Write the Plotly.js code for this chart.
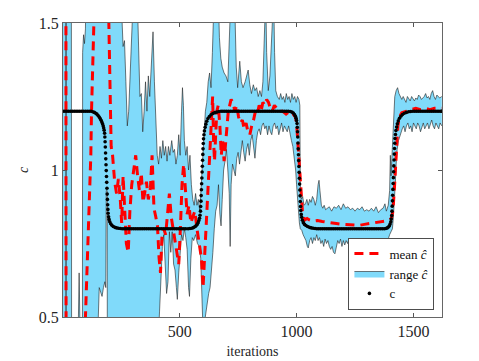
<!DOCTYPE html>
<html>
<head>
<meta charset="utf-8">
<script src="https://cdn.plot.ly/plotly-3.0.1.min.js"></script>
<style>
  body { margin: 0; background: #fff; }
  #plot { width: 479px; height: 361px; }
</style>
</head>
<body>
<div id="plot"></div>
<script>
// true parameter c as [iteration, value]
var cPoints = [
  [1,1.2],[9,1.2],[17,1.2],[25,1.2],[33,1.2],[41,1.2],[49,1.2],[57,1.2],[65,1.2],[73,1.2],[81,1.2],[89,1.2],[97,1.2],[105,1.2],[113,1.2],[121,1.2],
  [128,1.198],[135,1.196],[141,1.193],[146,1.19],[151,1.185],[156,1.18],[160,1.175],[164,1.169],[167,1.163],[170,1.157],[173,1.15],[175,1.143],[177,1.135],[179,1.125],
  [180,1.112],[181,1.096],[182,1.078],[183,1.058],[184,1.038],[185,1.018],[186,0.998],[187,0.978],[188,0.958],[189,0.938],[190,0.918],[191,0.9],[192,0.882],[193,0.866],
  [194,0.853],[196,0.841],[198,0.832],[201,0.824],[205,0.817],[210,0.812],[216,0.808],[223,0.805],[230,0.803],[238,0.802],[246,0.801],
  [254,0.8],[262,0.8],[270,0.8],[278,0.8],[286,0.8],[294,0.8],[302,0.8],[310,0.8],[318,0.8],[326,0.8],[334,0.8],[342,0.8],[350,0.8],[358,0.8],[366,0.8],[374,0.8],
  [382,0.8],[390,0.8],[398,0.8],[406,0.8],[414,0.8],[422,0.8],[430,0.8],[438,0.8],[446,0.8],[454,0.8],[462,0.8],[470,0.8],[478,0.8],[486,0.8],[494,0.8],[502,0.8],
  [510,0.8],[518,0.8],[526,0.8],[536,0.8],[544,0.801],[552,0.802],[559,0.804],[565,0.807],[570,0.81],[575,0.815],[579,0.821],[582,0.828],[585,0.836],[587,0.846],
  [589,0.86],[590,0.876],[591,0.894],[592,0.913],[593,0.933],[594,0.953],[595,0.973],[596,0.993],[597,1.013],[598,1.033],[599,1.053],[600,1.072],[601,1.09],[602,1.106],
  [604,1.12],[606,1.133],[609,1.145],[612,1.156],[616,1.166],[621,1.175],[627,1.182],[634,1.188],[642,1.192],[650,1.195],[659,1.197],[668,1.199],[677,1.2],
  [685,1.2],[693,1.2],[701,1.2],[709,1.2],[717,1.2],[725,1.2],[733,1.2],[741,1.2],[749,1.2],[757,1.2],[765,1.2],[773,1.2],[781,1.2],[789,1.2],[797,1.2],[805,1.2],
  [813,1.2],[821,1.2],[829,1.2],[837,1.2],[845,1.2],[853,1.2],[861,1.2],[869,1.2],[877,1.2],[885,1.2],[893,1.2],[901,1.2],[909,1.2],[917,1.2],[925,1.2],[933,1.2],
  [941,1.2],[949,1.2],[957,1.2],[965,1.2],[973,1.199],[980,1.197],[986,1.194],[991,1.189],[995,1.183],[998,1.176],[1000,1.168],[1002,1.158],[1003,1.145],[1004,1.13],
  [1005,1.112],[1006,1.092],[1007,1.072],[1008,1.052],[1009,1.032],[1010,1.012],[1011,0.992],[1012,0.972],[1013,0.952],[1014,0.932],[1015,0.912],[1016,0.893],
  [1017,0.876],[1018,0.862],[1020,0.849],[1022,0.839],[1025,0.829],[1029,0.821],[1034,0.815],[1040,0.811],[1047,0.808],[1055,0.805],[1063,0.803],[1071,0.802],[1079,0.801],
  [1087,0.8],[1095,0.8],[1103,0.8],[1111,0.8],[1119,0.8],[1127,0.8],[1135,0.8],[1143,0.8],[1151,0.8],[1159,0.8],[1167,0.8],[1175,0.8],[1183,0.8],[1191,0.8],
  [1199,0.8],[1207,0.8],[1215,0.8],[1223,0.8],[1231,0.8],[1239,0.8],[1247,0.8],[1255,0.8],[1263,0.8],[1271,0.8],[1279,0.8],[1287,0.8],[1295,0.8],[1303,0.8],
  [1311,0.8],[1319,0.8],[1327,0.8],[1335,0.8],[1343,0.8],[1351,0.8],[1359,0.8],[1367,0.8],[1375,0.8],[1382,0.801],[1388,0.803],[1393,0.806],[1397,0.81],[1400,0.816],
  [1403,0.824],[1405,0.833],[1407,0.845],[1408,0.86],[1409,0.877],[1410,0.895],[1411,0.914],[1412,0.934],[1413,0.954],[1414,0.974],[1415,0.994],[1416,1.014],
  [1417,1.034],[1418,1.054],[1419,1.073],[1420,1.091],[1421,1.107],[1423,1.121],[1425,1.134],[1428,1.146],[1431,1.157],[1435,1.167],[1440,1.176],[1446,1.183],
  [1453,1.189],[1461,1.193],[1470,1.196],[1479,1.198],[1488,1.199],[1497,1.2],[1505,1.2],[1513,1.2],[1521,1.2],[1529,1.2],[1537,1.2],[1545,1.2],[1553,1.2],
  [1561,1.2],[1569,1.2],[1577,1.2],[1585,1.2],[1593,1.2],[1601,1.2],[1609,1.2],[1617,1.2],[1621,1.2]
];

// mean of the estimates c-hat
var meanPoints = [
  [1,2.5],[13,2.5],[15,-1.0],[85,0.1],[97,0.5],[105,0.7],[112,0.85],[117,0.95],[120,1.05],[123,1.2],[125,1.35],[127,1.5],[131,1.9],
  [160,2.3],[190,1.8],[197,1.5],[200,1.3],[203,1.15],[207,1.08],[213,1.05],[222,0.96],[230,0.92],[238,0.97],[246,0.9],[252,0.82],[258,0.98],[265,0.88],
  [272,0.75],[280,0.72],[287,0.86],[295,0.95],[303,1.0],[312,1.05],[320,0.98],[328,0.93],[336,0.99],[343,0.89],[350,0.92],[358,0.96],[366,0.9],[375,0.94],
  [382,1.05],[390,0.87],[398,0.84],[405,0.81],[412,0.7],[418,0.65],[424,0.77],[432,0.8],[440,0.78],[448,0.86],[456,0.92],[464,0.84],[472,0.8],[480,0.77],
  [488,0.73],[496,0.68],[503,0.8],[510,0.95],[517,1.02],[524,0.92],[532,0.85],[540,0.88],[548,0.82],[556,0.84],[565,0.86],[574,0.8],[585,0.75],[593,0.7],
  [600,0.6],[606,0.7],[612,0.8],[618,0.9],[624,1.0],[630,1.1],[636,1.2],[641,1.25],[645,1.1],[649,1.03],[654,1.12],[659,1.2],[665,1.22],[672,1.15],
  [678,1.05],[684,1.1],[690,1.03],[696,1.08],[702,1.15],[708,1.2],[714,1.22],[720,1.24],[728,1.23],[736,1.2],[744,1.22],[752,1.18],[760,1.16],[768,1.17],
  [776,1.14],[784,1.16],[792,1.13],[800,1.12],[808,1.15],[816,1.17],[824,1.2],[832,1.19],[840,1.22],[848,1.2],[856,1.23],[864,1.22],[872,1.24],[880,1.23],
  [888,1.21],[896,1.2],[905,1.22],[915,1.21],[925,1.2],[940,1.2],[955,1.19],[970,1.2],[985,1.19],[995,1.18],[1000,1.16],[1005,1.1],[1010,1.03],[1015,0.97],
  [1020,0.9],[1025,0.86],[1030,0.84],[1035,0.83],[1045,0.835],[1055,0.83],[1070,0.826],[1090,0.828],[1110,0.825],[1130,0.822],[1150,0.82],[1170,0.818],
  [1190,0.816],[1210,0.815],[1230,0.814],[1250,0.812],[1270,0.812],[1290,0.815],[1310,0.818],[1330,0.82],[1350,0.822],[1370,0.825],[1390,0.828],[1405,0.835],
  [1412,0.86],[1418,0.93],[1423,1.02],[1428,1.1],[1433,1.15],[1440,1.18],[1450,1.195],[1470,1.2],[1490,1.205],[1510,1.21],[1530,1.205],[1550,1.21],
  [1570,1.205],[1590,1.21],[1610,1.21],[1621,1.21]
];

// upper edge of the range of c-hat
var upperPoints = [
  [1,2.5],[36,2.5],[38,0.2],[60,0.3],[66,0.45],[70,0.65],[74,0.45],[80,0.35],[84,0.4],[85,1.4],[89,1.46],[93,1.43],[97,1.48],[100,1.6],[104,2.0],
  [250,2.0],[254,1.5],[258,1.42],[264,1.44],[270,1.3],[276,1.15],[282,1.2],[288,1.35],[294,1.52],[298,1.7],[312,1.8],[320,1.55],[325,1.35],[330,1.25],
  [336,1.26],[342,1.13],[348,1.2],[354,1.3],[360,1.2],[366,1.32],[372,1.25],[380,1.38],[386,1.47],[392,1.3],[398,1.15],[404,1.05],[410,1.02],[416,1.08],
  [422,1.04],[428,1.1],[434,1.05],[440,1.08],[446,1.03],[452,1.08],[458,1.05],[466,1.1],[472,1.06],[478,1.07],[484,1.02],[490,1.05],[496,1.12],[502,1.05],
  [508,1.2],[512,1.28],[516,1.22],[520,1.1],[526,1.05],[532,1.08],[538,1.0],[544,1.05],[550,0.95],[556,0.9],[562,0.88],[568,0.92],[574,0.88],[580,0.9],
  [586,0.86],[592,0.95],[598,1.05],[604,1.15],[610,1.2],[616,1.23],[622,1.3],[628,1.33],[634,1.28],[640,1.4],[645,1.6],[655,1.8],[665,1.6],[670,1.45],
  [676,1.38],[682,1.35],[690,1.33],[698,1.32],[706,1.3],[714,1.45],[719,1.6],[728,1.8],[736,1.55],[742,1.35],[748,1.28],[757,1.37],[764,1.3],[771,1.28],
  [780,1.3],[793,1.34],[800,1.29],[807,1.26],[815,1.29],[822,1.27],[829,1.28],[836,1.25],[843,1.27],[850,1.25],[856,1.3],[860,1.4],[864,1.55],[868,1.6],
  [872,1.4],[879,1.27],[886,1.32],[893,1.45],[898,1.6],[902,1.6],[906,1.4],[911,1.27],[918,1.25],[926,1.24],[932,1.26],[938,1.24],[944,1.25],[950,1.23],
  [956,1.26],[962,1.24],[968,1.25],[974,1.23],[980,1.26],[986,1.24],[992,1.25],[998,1.23],[1004,1.25],[1010,1.24],[1014,1.22],[1016,0.95],[1020,0.9],
  [1026,0.91],[1032,0.88],[1038,0.885],[1044,0.9],[1050,0.88],[1056,0.9],[1062,0.89],[1068,0.91],[1074,0.9],[1080,0.88],[1086,0.9],[1092,0.95],[1096,0.965],
  [1100,0.93],[1106,0.88],[1112,0.87],[1118,0.88],[1124,0.865],[1130,0.87],[1140,0.875],[1150,0.86],[1160,0.875],[1170,0.87],[1180,0.88],[1190,0.865],
  [1200,0.885],[1210,0.87],[1220,0.875],[1230,0.865],[1240,0.87],[1250,0.86],[1260,0.87],[1270,0.865],[1280,0.875],[1290,0.86],[1300,0.865],[1310,0.86],
  [1320,0.87],[1330,0.86],[1340,0.875],[1350,0.855],[1360,0.865],[1370,0.87],[1378,0.885],[1384,0.86],[1392,0.88],[1398,0.93],[1401,1.05],[1404,0.98],
  [1408,1.05],[1412,1.15],[1416,1.22],[1420,1.25],[1426,1.27],[1432,1.28],[1438,1.26],[1444,1.25],[1450,1.24],[1456,1.25],[1462,1.24],[1468,1.23],
  [1474,1.25],[1480,1.24],[1486,1.235],[1492,1.25],[1498,1.24],[1504,1.235],[1510,1.245],[1516,1.24],[1522,1.255],[1528,1.25],[1534,1.24],[1540,1.245],
  [1546,1.25],[1552,1.26],[1558,1.245],[1564,1.25],[1570,1.24],[1576,1.26],[1582,1.27],[1588,1.25],[1594,1.24],[1600,1.255],[1606,1.25],[1612,1.245],[1621,1.25]
];

// lower edge of the range of c-hat
var lowerPoints = [
  [1,-1],[13,-1],[14,2.0],[15,-1],[150,-1],[152,0.5],[156,0.6],[162,0.58],[168,0.57],[174,0.6],[180,0.62],[184,0.6],[186,0.93],[190,0.93],[191,0.5],
  [192,-1],[405,-1],[410,0.45],[414,0.52],[420,0.66],[426,0.74],[432,0.78],[438,0.7],[444,0.58],[450,0.62],[456,0.79],[462,0.72],[468,0.79],[474,0.68],
  [480,0.66],[486,0.6],[490,0.56],[496,0.65],[502,0.72],[508,0.78],[514,0.76],[520,0.8],[526,0.77],[532,0.73],[538,0.6],[542,0.57],[548,0.7],[554,0.77],
  [560,0.76],[568,0.78],[576,0.75],[584,0.74],[590,0.7],[596,0.55],[600,0.45],[606,0.48],[612,0.52],[618,0.55],[624,0.58],[630,0.6],[636,0.65],[642,0.72],
  [648,0.8],[654,0.86],[660,0.88],[666,0.95],[672,0.85],[677,0.81],[682,0.9],[688,1.0],[694,1.03],[700,1.07],[706,1.0],[712,0.92],[716,0.74],[720,0.95],
  [726,1.02],[732,1.0],[738,0.98],[744,1.04],[750,1.06],[756,1.02],[762,1.06],[768,1.1],[774,1.06],[780,1.03],[786,1.07],[792,1.09],[798,1.05],[804,1.1],
  [810,1.12],[816,1.08],[822,1.04],[828,1.1],[834,1.13],[840,1.14],[846,1.12],[852,1.15],[858,1.16],[864,1.14],[870,1.15],[876,1.12],[882,1.15],[888,1.13],
  [894,1.12],[900,1.15],[906,1.16],[912,1.14],[918,1.15],[924,1.12],[930,1.14],[936,1.16],[942,1.13],[948,1.15],[954,1.14],[960,1.13],[966,1.15],[972,1.12],
  [978,1.1],[984,1.08],[990,1.04],[996,1.0],[1000,0.95],[1004,0.9],[1008,0.85],[1012,0.82],[1016,0.8],[1022,0.795],[1028,0.78],[1034,0.77],[1040,0.76],
  [1046,0.74],[1050,0.735],[1056,0.76],[1062,0.77],[1068,0.75],[1074,0.77],[1080,0.76],[1086,0.78],[1092,0.76],[1098,0.77],[1104,0.75],[1110,0.76],
  [1116,0.74],[1122,0.765],[1128,0.75],[1134,0.76],[1140,0.74],[1146,0.73],[1152,0.74],[1158,0.72],[1164,0.715],[1170,0.74],[1176,0.76],[1182,0.75],
  [1188,0.765],[1194,0.74],[1200,0.76],[1206,0.745],[1212,0.76],[1218,0.75],[1224,0.765],[1230,0.74],[1236,0.76],[1242,0.75],[1248,0.76],[1254,0.745],
  [1260,0.765],[1266,0.75],[1272,0.755],[1278,0.74],[1284,0.76],[1290,0.75],[1296,0.765],[1302,0.75],[1308,0.76],[1314,0.745],[1320,0.76],[1326,0.75],
  [1332,0.765],[1338,0.75],[1344,0.76],[1350,0.745],[1356,0.76],[1362,0.75],[1368,0.765],[1374,0.75],[1380,0.755],[1386,0.75],[1392,0.77],[1398,0.78],
  [1404,0.79],[1410,0.8],[1414,0.84],[1418,0.88],[1422,0.95],[1426,1.02],[1430,1.07],[1436,1.1],[1440,1.11],[1446,1.13],[1452,1.14],[1458,1.15],[1464,1.13],
  [1470,1.15],[1476,1.16],[1482,1.14],[1488,1.15],[1494,1.13],[1500,1.16],[1506,1.15],[1512,1.14],[1518,1.16],[1524,1.15],[1530,1.13],[1536,1.15],
  [1542,1.16],[1548,1.14],[1554,1.15],[1560,1.16],[1566,1.14],[1572,1.16],[1578,1.17],[1584,1.15],[1590,1.14],[1596,1.16],[1602,1.15],[1608,1.14],
  [1614,1.16],[1621,1.15]
];

var xTicks = [500, 1000, 1500];
var yTicks = [0.5, 1, 1.5];

var col = (pts, i) => pts.map(p => p[i]);
var serif = "Liberation Serif";
var edge = "rgba(30,30,30,0.85)";

var lowerTrace = {
  x: col(lowerPoints, 0), y: col(lowerPoints, 1),
  mode: "lines", line: {color: edge, width: 0.7},
  showlegend: false, hoverinfo: "skip"
};
var upperTrace = {
  x: col(upperPoints, 0), y: col(upperPoints, 1),
  mode: "lines", fill: "tonexty", fillcolor: "#80DAFA",
  line: {color: edge, width: 0.7},
  name: "range <i>ĉ</i>", legendrank: 2
};
var meanTrace = {
  x: col(meanPoints, 0), y: col(meanPoints, 1),
  mode: "lines", line: {color: "#FF0000", width: 3, dash: "9px,6px"},
  name: "mean <i>ĉ</i>", legendrank: 1
};
var cTrace = {
  x: col(cPoints, 0), y: col(cPoints, 1),
  mode: "markers", marker: {color: "#000", size: 3.6},
  name: "c", legendrank: 3
};

var layout = {
  width: 479, height: 361,
  margin: {l: 63, r: 37, t: 23, b: 44},
  paper_bgcolor: "#fff", plot_bgcolor: "#fff",
  font: {family: serif, size: 15, color: "#262626"},
  showlegend: true,
  legend: {
    x: 0.98, y: 0.025, xanchor: "right", yanchor: "bottom",
    traceorder: "normal",
    bgcolor: "#fff", bordercolor: "#4d4d4d", borderwidth: 1,
    font: {family: serif, size: 13, color: "#111"},
    tracegroupgap: 0
  },
  xaxis: {
    range: [1, 1622], tickvals: xTicks, ticks: "inside", ticklen: 4,
    tickcolor: "#555", showline: true, linecolor: "#666", linewidth: 1,
    mirror: "ticks", showgrid: false, zeroline: false,
    tickfont: {family: serif, size: 16, color: "#262626"},
    title: {text: "iterations", font: {family: serif, size: 14, color: "#262626"}, standoff: 6}
  },
  yaxis: {
    range: [0.5, 1.5], tickvals: yTicks, ticks: "inside", ticklen: 4,
    tickcolor: "#555", showline: true, linecolor: "#666", linewidth: 1,
    mirror: "ticks", showgrid: false, zeroline: false,
    tickfont: {family: serif, size: 16, color: "#262626"},
    title: {text: "<i>c</i>", font: {family: serif, size: 14, color: "#262626"}, standoff: 6}
  }
};

Plotly.newPlot("plot", [lowerTrace, upperTrace, meanTrace, cTrace], layout, {displayModeBar: false});
</script>
</body>
</html>
